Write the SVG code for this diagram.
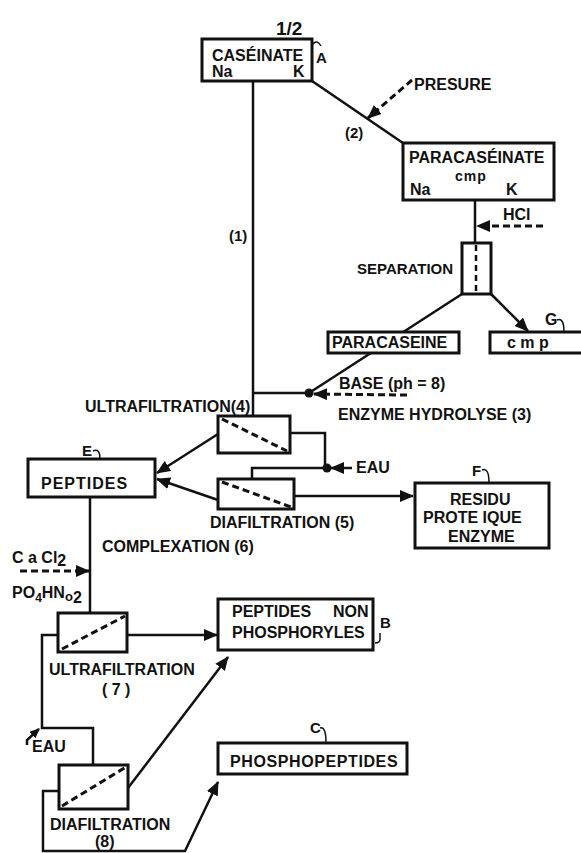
<svg xmlns="http://www.w3.org/2000/svg" width="581" height="853" viewBox="0 0 581 853">
<style>
text{font-family:"Liberation Sans",Arial,sans-serif;font-weight:bold;font-size:16px;fill:#111}
.s15{font-size:15px}
.box{fill:#fff;stroke:#111;stroke-width:3}
.ln{fill:none;stroke:#111;stroke-width:2.5}
.ds{fill:none;stroke:#111;stroke-width:3;stroke-dasharray:7 4}
.fd{fill:none;stroke:#111;stroke-width:2.5;stroke-dasharray:6 4}
.hk{fill:none;stroke:#111;stroke-width:1.5}
</style>
<defs>
<marker id="ar" markerUnits="userSpaceOnUse" markerWidth="14" markerHeight="12" refX="13" refY="6" orient="auto">
<path d="M0,0 L14,6 L0,12 z" fill="#111"/>
</marker>
<marker id="ars" markerUnits="userSpaceOnUse" markerWidth="10" markerHeight="9" refX="9" refY="4.5" orient="auto">
<path d="M0,0 L10,4.5 L0,9 z" fill="#111"/>
</marker>
</defs>
<rect width="581" height="853" fill="#fff"/>

<g id="connectors">
<path class="ln" d="M253,81 L253,416"/>
<path class="ln" d="M312,81 L403,143"/>
<path class="ds" d="M412,80 L368,118" marker-end="url(#ar)"/>
<path class="ln" d="M475,200 L475,243"/>
<path class="ds" d="M543,226 L477,226" marker-end="url(#ar)"/>
<path class="ln" d="M462,294 L309,393"/>
<path class="ln" d="M491,294 L528,331" marker-end="url(#ar)"/>
<path class="ln" d="M253,393 L309,393"/>
<path class="ds" d="M407,395 L314,394" marker-end="url(#ar)"/>
<path class="ln" d="M290,433 L325,433 L325,468"/>
<path class="ln" d="M352,468 L331,468" marker-end="url(#ar)"/>
<path class="ln" d="M327,468 L252,468 L252,479"/>
<path class="ln" d="M218,434 L157,473" marker-end="url(#ar)"/>
<path class="ln" d="M218,500 L157,479" marker-end="url(#ar)"/>
<path class="ln" d="M294,496 L413,496" marker-end="url(#ar)"/>
<path class="ln" d="M90,497 L90,613"/>
<path class="ds" d="M20,571 L89,571" marker-end="url(#ar)"/>
<path class="ln" d="M127,635 L217,635" marker-end="url(#ar)"/>
<path class="ln" d="M58,635 L42,635 L42,728 L93,728 L93,765"/>
<path class="ln" d="M27,745 L27,740 L39,729" stroke-width="1.5" marker-end="url(#ars)"/>
<path class="ln" d="M128,788 L228,657" marker-end="url(#ar)"/>
<path class="ln" d="M59,791 L43,791 L43,851 L185,851 L218,782" marker-end="url(#ar)"/>
<circle cx="309" cy="393" r="4.5" fill="#111"/>
<circle cx="327" cy="468" r="4.5" fill="#111"/>
</g>

<g id="caseinate">
<rect class="box" x="202" y="39" width="110" height="42"/>
<text x="212" y="61">CASÉINATE</text>
<text x="212" y="77">Na</text>
<text x="293" y="77">K</text>
<text x="276" y="35" style="font-size:19px">1/2</text>
<path class="hk" d="M313,44 Q317,39 321,46"/>
<text x="316" y="63" class="s15">A</text>
</g>

<g id="presure"><text x="414" y="90">PRESURE</text></g>
<g id="lbl1"><text x="229" y="241" class="s15">(1)</text></g>
<g id="lbl2"><text x="345" y="138" class="s15">(2)</text></g>

<g id="paracaseinate">
<rect class="box" x="403" y="143" width="151" height="57"/>
<text x="409" y="163">PARACASÉINATE</text>
<text x="455" y="181" letter-spacing="1" style="font-size:14px">cmp</text>
<text x="410" y="195">Na</text>
<text x="506" y="195">K</text>
</g>

<g id="hcl"><text x="503" y="220">HCl</text></g>

<g id="separation">
<rect class="box" x="462" y="243" width="29" height="51"/>
<path class="fd" d="M476,245 L476,294"/>
<text x="357" y="274" class="s15">SEPARATION</text>
</g>

<g id="paracaseine">
<rect class="box" x="328" y="332" width="131" height="21"/>
<text x="332" y="348">PARACASEINE</text>
</g>

<g id="cmp">
<rect class="box" x="490" y="332" width="95" height="21"/>
<text x="507" y="348">c m p</text>
<text x="545" y="325">G</text>
<path class="hk" d="M557,320 Q564,317 564,332"/>
</g>

<g id="base">
<text x="339" y="389">BASE (ph = 8)</text>
<text x="338" y="420">ENZYME HYDROLYSE (3)</text>
</g>

<g id="uf4">
<rect class="box" x="218" y="416" width="72" height="37"/>
<path class="ds" d="M222,419 L287,451"/>
<text x="85" y="412">ULTRAFILTRATION(4)</text>
</g>

<g id="eau1"><text x="356" y="473">EAU</text></g>

<g id="df5">
<rect class="box" x="218" y="479" width="76" height="30"/>
<path class="ds" d="M222,482 L291,507"/>
<text x="210" y="528">DIAFILTRATION (5)</text>
</g>

<g id="peptides">
<rect class="box" x="28" y="459" width="127" height="38"/>
<text x="41" y="489" letter-spacing="1">PEPTIDES</text>
<text x="82" y="456" class="s15">E</text>
<path class="hk" d="M93,451 Q100,448 100,459"/>
</g>

<g id="residu">
<rect class="box" x="415" y="483" width="134" height="65"/>
<text x="450" y="505">RESIDU</text>
<text x="423" y="523">PROTE IQUE</text>
<text x="448" y="542">ENZYME</text>
<text x="472" y="476" class="s15">F</text>
<path class="hk" d="M482,470 Q489,467 489,483"/>
</g>

<g id="complexation">
<text x="102" y="552">COMPLEXATION (6)</text>
<text x="12" y="563">C a Cl<tspan dy="3">2</tspan></text>
<text x="12" y="598">PO<tspan dy="4" style="font-size:12px">4</tspan><tspan dy="-4">HN</tspan><tspan dy="3" style="font-size:13px">o</tspan><tspan dy="2">2</tspan></text>
</g>

<g id="uf7">
<rect class="box" x="58" y="613" width="69" height="39"/>
<path class="ds" d="M62,649 L125,616"/>
<text x="49" y="675">ULTRAFILTRATION</text>
<text x="102" y="695">( 7 )</text>
</g>

<g id="pnp">
<rect class="box" x="218" y="599" width="155" height="51"/>
<text x="232" y="617">PEPTIDES<tspan x="333">NON</tspan></text>
<text x="232" y="638">PHOSPHORYLES</text>
<text x="380" y="628" class="s15">B</text>
<path class="hk" d="M380,633 L380,639 Q380,643 375,643"/>
</g>

<g id="eau2"><text x="32" y="752">EAU</text></g>

<g id="df8">
<rect class="box" x="59" y="765" width="69" height="44"/>
<path class="ds" d="M62,806 L126,767"/>
<text x="50" y="830">DIAFILTRATION</text>
<text x="95" y="847">(8)</text>
</g>

<g id="phospho">
<rect class="box" x="218" y="743" width="189" height="31"/>
<text x="230" y="767" letter-spacing="0.6">PHOSPHOPEPTIDES</text>
<text x="310" y="733" class="s15">C</text>
<path class="hk" d="M320,728 Q326,726 326,743"/>
</g>
</svg>
